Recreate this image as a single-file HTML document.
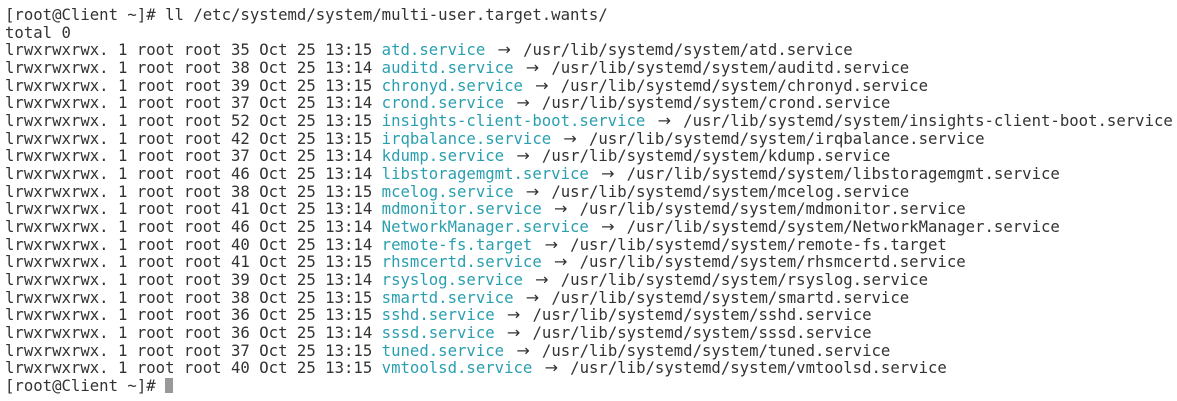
<!DOCTYPE html>
<html><head><meta charset="utf-8"><style>
html,body{margin:0;padding:0;background:#fff;width:1177px;height:401px;overflow:hidden}
pre{margin:0;position:absolute;left:5px;top:6px;font-family:"DejaVu Sans Mono","Liberation Mono",monospace;font-size:15.65px;line-height:17.67px;color:#333;white-space:pre}
.c{color:#2a9fb0}
.a{display:inline-block;width:19px;text-align:center;font-family:"DejaVu Sans",sans-serif;font-size:16px;line-height:17px}
.cur{display:inline-block;width:8px;height:15px;background:#999;vertical-align:-2px}
</style></head><body><pre>[root@Client ~]# ll /etc/systemd/system/multi-user.target.wants/
total 0
lrwxrwxrwx. 1 root root 35 Oct 25 13:15 <span class="c">atd.service</span> <span class="a">→</span> /usr/lib/systemd/system/atd.service
lrwxrwxrwx. 1 root root 38 Oct 25 13:14 <span class="c">auditd.service</span> <span class="a">→</span> /usr/lib/systemd/system/auditd.service
lrwxrwxrwx. 1 root root 39 Oct 25 13:15 <span class="c">chronyd.service</span> <span class="a">→</span> /usr/lib/systemd/system/chronyd.service
lrwxrwxrwx. 1 root root 37 Oct 25 13:14 <span class="c">crond.service</span> <span class="a">→</span> /usr/lib/systemd/system/crond.service
lrwxrwxrwx. 1 root root 52 Oct 25 13:15 <span class="c">insights-client-boot.service</span> <span class="a">→</span> /usr/lib/systemd/system/insights-client-boot.service
lrwxrwxrwx. 1 root root 42 Oct 25 13:15 <span class="c">irqbalance.service</span> <span class="a">→</span> /usr/lib/systemd/system/irqbalance.service
lrwxrwxrwx. 1 root root 37 Oct 25 13:14 <span class="c">kdump.service</span> <span class="a">→</span> /usr/lib/systemd/system/kdump.service
lrwxrwxrwx. 1 root root 46 Oct 25 13:14 <span class="c">libstoragemgmt.service</span> <span class="a">→</span> /usr/lib/systemd/system/libstoragemgmt.service
lrwxrwxrwx. 1 root root 38 Oct 25 13:15 <span class="c">mcelog.service</span> <span class="a">→</span> /usr/lib/systemd/system/mcelog.service
lrwxrwxrwx. 1 root root 41 Oct 25 13:14 <span class="c">mdmonitor.service</span> <span class="a">→</span> /usr/lib/systemd/system/mdmonitor.service
lrwxrwxrwx. 1 root root 46 Oct 25 13:14 <span class="c">NetworkManager.service</span> <span class="a">→</span> /usr/lib/systemd/system/NetworkManager.service
lrwxrwxrwx. 1 root root 40 Oct 25 13:14 <span class="c">remote-fs.target</span> <span class="a">→</span> /usr/lib/systemd/system/remote-fs.target
lrwxrwxrwx. 1 root root 41 Oct 25 13:15 <span class="c">rhsmcertd.service</span> <span class="a">→</span> /usr/lib/systemd/system/rhsmcertd.service
lrwxrwxrwx. 1 root root 39 Oct 25 13:14 <span class="c">rsyslog.service</span> <span class="a">→</span> /usr/lib/systemd/system/rsyslog.service
lrwxrwxrwx. 1 root root 38 Oct 25 13:15 <span class="c">smartd.service</span> <span class="a">→</span> /usr/lib/systemd/system/smartd.service
lrwxrwxrwx. 1 root root 36 Oct 25 13:15 <span class="c">sshd.service</span> <span class="a">→</span> /usr/lib/systemd/system/sshd.service
lrwxrwxrwx. 1 root root 36 Oct 25 13:14 <span class="c">sssd.service</span> <span class="a">→</span> /usr/lib/systemd/system/sssd.service
lrwxrwxrwx. 1 root root 37 Oct 25 13:15 <span class="c">tuned.service</span> <span class="a">→</span> /usr/lib/systemd/system/tuned.service
lrwxrwxrwx. 1 root root 40 Oct 25 13:15 <span class="c">vmtoolsd.service</span> <span class="a">→</span> /usr/lib/systemd/system/vmtoolsd.service
[root@Client ~]# <span class="cur"></span></pre></body></html>
